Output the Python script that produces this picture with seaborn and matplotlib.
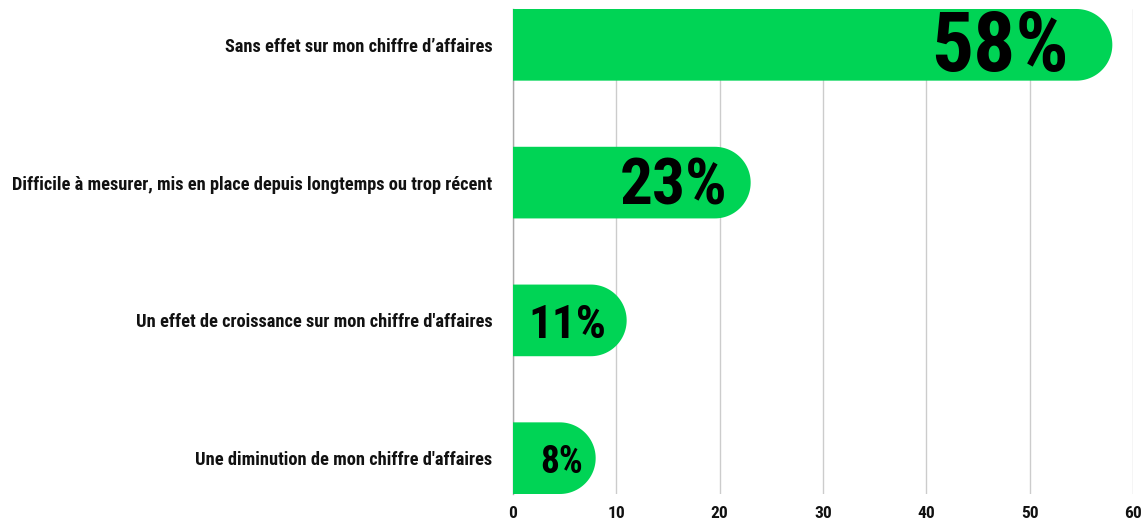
import numpy as np
import pandas as pd
import matplotlib
matplotlib.use("Agg")
import matplotlib.pyplot as plt
from matplotlib.path import Path
from matplotlib.patches import PathPatch
from matplotlib import font_manager
import seaborn as sns

categories = [
    "Sans effet sur mon chiffre d\u2019affaires",
    "Difficile à mesurer, mis en place depuis longtemps ou trop récent",
    "Un effet de croissance sur mon chiffre d'affaires",
    "Une diminution de mon chiffre d'affaires",
]
values = [58, 23, 11, 8]
value_labels = ["58%", "23%", "11%", "8%"]
x_ticks = [0, 10, 20, 30, 40, 50, 60]

BAR_COLOR = "#00D455"

sns.set_theme(style="white")
available = {f.name for f in font_manager.fontManager.ttflist}
families = [f for f in ["Liberation Sans Narrow", "DejaVu Sans Condensed",
                        "Roboto Condensed", "DejaVu Sans"] if f in available]
plt.rcParams["font.family"] = families
plt.rcParams["font.weight"] = "bold"
plt.rcParams["xtick.color"] = "#cccccc"
plt.rcParams["xtick.labelcolor"] = "#111111"
plt.rcParams["ytick.labelcolor"] = "#111111"

df = pd.DataFrame({"category": categories, "value": values})

fig = plt.figure(figsize=(11.46, 5.29), dpi=100)
ax = fig.add_axes([513 / 1146, 1 - 494 / 529, 620 / 1146, 485 / 529])

sns.barplot(data=df, x="value", y="category", color=BAR_COLOR, width=0.52,
            saturation=1, ax=ax, zorder=3)
ax.set_xlim(0, 60)
ax.set_ylim(3.26, -0.26)
fig.canvas.draw()

# Replace the square bars with bars whose right end is a half disc
px_per_x = ax.transData.transform((1, 0))[0] - ax.transData.transform((0, 0))[0]
px_per_y = abs(ax.transData.transform((0, 1))[1] - ax.transData.transform((0, 0))[1])
for p in list(ax.patches):
    x0, y0, w, h = p.get_x(), p.get_y(), p.get_width(), p.get_height()
    p.remove()
    ry = h / 2
    rx = ry * px_per_y / px_per_x
    yc = y0 + ry
    xe = x0 + w - rx
    t = np.linspace(-np.pi / 2, np.pi / 2, 60)
    arc = np.column_stack([xe + rx * np.cos(t), yc + ry * np.sin(t)])
    verts = np.vstack([[x0, y0], [xe, y0], arc, [xe, y0 + h], [x0, y0 + h], [x0, y0]])
    codes = [Path.MOVETO] + [Path.LINETO] * (len(verts) - 2) + [Path.CLOSEPOLY]
    ax.add_patch(PathPatch(Path(verts, codes), facecolor=BAR_COLOR,
                           edgecolor="none", zorder=3))

# Value labels inside the bars, sized with the value
sizes = [60, 47, 34, 27]
pads = [4.2, 2.2, 2.0, 1.2]
for i, (v, lab) in enumerate(zip(values, value_labels)):
    ax.text(v - pads[i], i + 0.03, lab, ha="right", va="center",
            fontsize=sizes[i], fontweight="bold", color="#000000", zorder=4)

ax.set_xticks(x_ticks)
ax.set_xticklabels([str(t) for t in x_ticks], fontsize=12.5, fontweight="bold")
ax.set_yticks(range(len(categories)))
ax.set_yticklabels(categories, fontsize=13.2, fontweight="bold")
ax.tick_params(axis="y", length=0, pad=15)
ax.tick_params(axis="x", length=4, pad=5, direction="out")
ax.set_xlabel("")
ax.set_ylabel("")
ax.grid(axis="x", color="#cccccc", linewidth=1, zorder=0)
ax.grid(axis="y", visible=False)
for s in ["top", "right", "bottom"]:
    ax.spines[s].set_visible(False)
ax.spines["left"].set_color("#aaaaaa")
ax.spines["left"].set_linewidth(1)
ax.spines["left"].set_zorder(2)

fig.savefig("out.png", dpi=100)
